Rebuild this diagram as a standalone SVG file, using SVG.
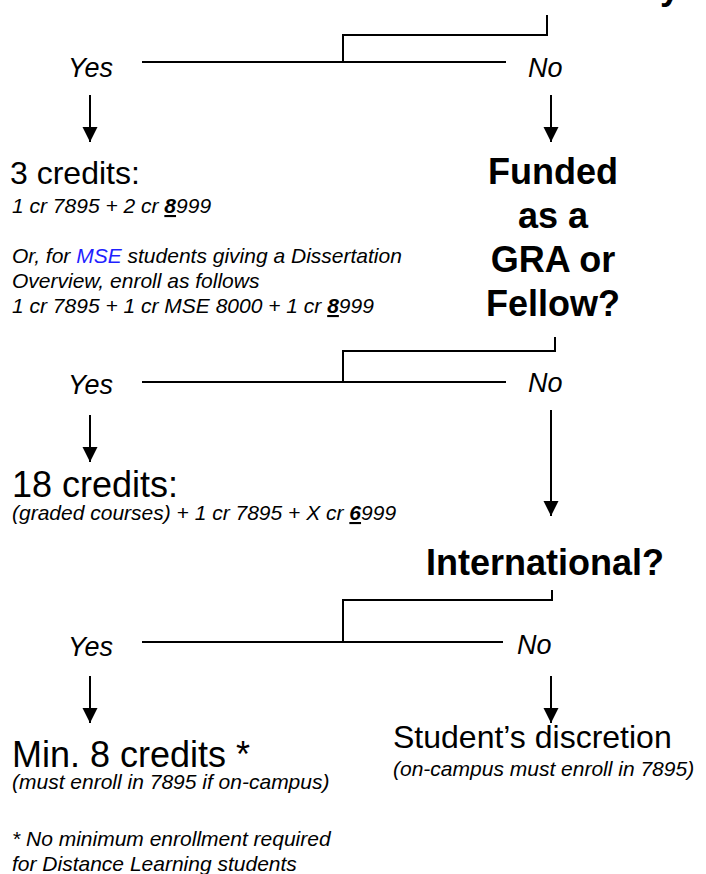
<svg xmlns="http://www.w3.org/2000/svg" width="706" height="874" viewBox="0 0 706 874">
<style>
text{font-family:"Liberation Sans",Arial,sans-serif;fill:#000}
.yn{font-size:27px;font-style:italic}
.big{font-size:36px}
.mid{font-size:32px}
.q{font-size:36px;font-weight:bold}
.sub{font-size:21px;font-style:italic}
.u{font-weight:bold;text-decoration:underline}
.blue{fill:#1f1fff}
.ln{stroke:#000;stroke-width:2;fill:none}
.ar{stroke:#000;stroke-width:2;fill:none;marker-end:url(#ah)}
</style>
<defs>
<marker id="ah" markerUnits="userSpaceOnUse" markerWidth="16" markerHeight="16" viewBox="0 0 16 16" refX="15" refY="8" orient="auto">
<path d="M0,0.5 L15,8 L0,15.5 Z" fill="#000"/>
</marker>
</defs>
<g id="connectors">
<path class="ln" d="M547,15 V35 H343 V62 M142,62 H506"/>
<path class="ar" d="M90,95 V142"/>
<path class="ar" d="M551,95 V142"/>
<path class="ln" d="M555,337 V351 H343 V382 M142,382 H506"/>
<path class="ar" d="M90,415 V462"/>
<path class="ar" d="M551,410 V516"/>
<path class="ln" d="M552,590 V600 H343 V642 M142,642 H503"/>
<path class="ar" d="M90,676 V723"/>
<path class="ar" d="M551,676 V723"/>
</g>
<g id="top-question"><text class="q" x="660" y="-1">y</text></g>
<g id="yes1"><text class="yn" x="68" y="77">Yes</text></g>
<g id="no1"><text class="yn" x="528" y="77">No</text></g>
<g id="three-credits">
<text class="mid" x="10" y="184">3 credits:</text>
<text class="sub" x="12" y="213">1 cr 7895 + 2 cr <tspan class="u">8</tspan>999</text>
<text class="sub" x="12" y="263">Or, for <tspan class="blue">MSE</tspan> students giving a Dissertation</text>
<text class="sub" x="12" y="288">Overview, enroll as follows</text>
<text class="sub" x="12" y="313">1 cr 7895 + 1 cr MSE 8000 + 1 cr <tspan class="u">8</tspan>999</text>
</g>
<g id="funded">
<text class="q" x="553" y="184" text-anchor="middle">Funded</text>
<text class="q" x="553" y="228" text-anchor="middle">as a</text>
<text class="q" x="553" y="272" text-anchor="middle">GRA or</text>
<text class="q" x="553" y="316" text-anchor="middle">Fellow?</text>
</g>
<g id="yes2"><text class="yn" x="68" y="394">Yes</text></g>
<g id="no2"><text class="yn" x="528" y="392">No</text></g>
<g id="eighteen-credits">
<text class="big" x="12" y="497">18 credits:</text>
<text class="sub" x="12" y="520">(graded courses) + 1 cr 7895 + X cr <tspan class="u">6</tspan>999</text>
</g>
<g id="international"><text class="q" x="426" y="575">International?</text></g>
<g id="yes3"><text class="yn" x="68" y="656">Yes</text></g>
<g id="no3"><text class="yn" x="517" y="654">No</text></g>
<g id="min8">
<text class="big" x="12" y="767">Min. 8 credits *</text>
<text class="sub" x="12" y="789">(must enroll in 7895 if on-campus)</text>
<text class="sub" x="12" y="846">* No minimum enrollment required</text>
<text class="sub" x="12" y="871">for Distance Learning students</text>
</g>
<g id="discretion">
<text class="mid" x="393" y="748">Student’s discretion</text>
<text class="sub" x="393" y="776">(on-campus must enroll in 7895)</text>
</g>
</svg>
